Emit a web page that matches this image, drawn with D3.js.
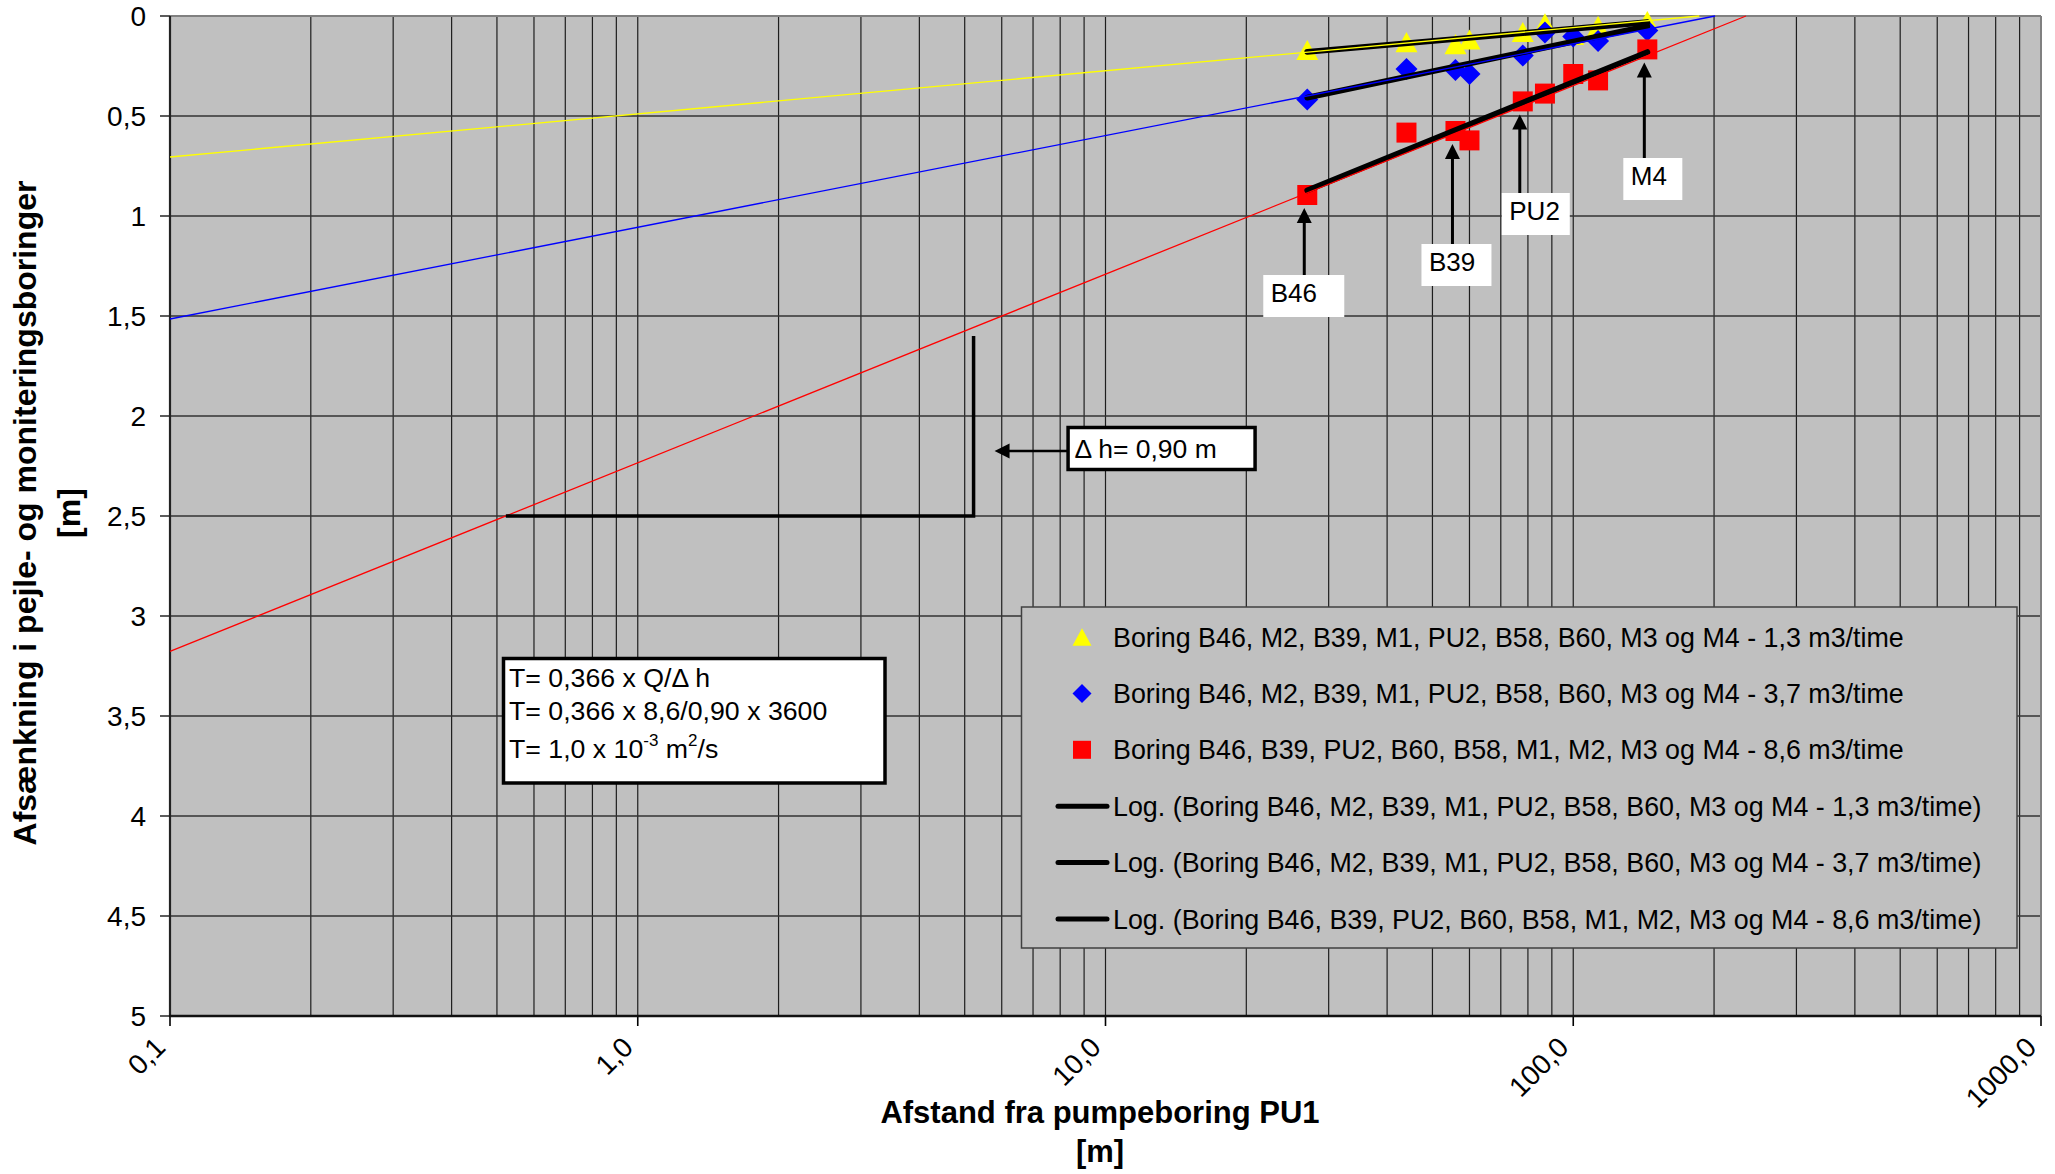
<!DOCTYPE html>
<html>
<head>
<meta charset="utf-8">
<script src="https://cdn.jsdelivr.net/npm/d3@7"></script>
<style>
  body { margin: 0; background: #fff; }
  svg { display: block; }
  text { font-family: "Liberation Sans", Arial, sans-serif; fill: #000; }
</style>
</head>
<body>
<svg id="chart" width="2055" height="1174"></svg>
<script>
// ---- data -------------------------------------------------------------
// distance from pumping well PU1 [m] for each observation bore
const distances = [27, 44, 56, 60, 78, 87, 100, 113, 144];
// drawdown [m] at the three pumping rates
const drawdown13 = [0.17, 0.131, 0.141, 0.1175, 0.08, 0.037, 0.095, 0.05, 0.025];
const drawdown37 = [0.417, 0.265, 0.27, 0.29, 0.198, 0.082, 0.103, 0.125, 0.073];
const drawdown86 = [0.895, 0.583, 0.575, 0.622, 0.427, 0.388, 0.29, 0.322, 0.167];
const seriesNames = [
  "Boring B46, M2, B39, M1, PU2, B58, B60, M3 og M4 - 1,3 m3/time",
  "Boring B46, M2, B39, M1, PU2, B58, B60, M3 og M4 - 3,7 m3/time",
  "Boring B46, B39, PU2, B60, B58, M1, M2, M3 og M4 - 8,6 m3/time"
];
// hand-drawn extrapolation lines: drawdown at 0,1 m and distance where drawdown is zero
const guideStartDepth = [0.705, 1.515, 3.177];
const guideZeroDistance = [186, 201, 234];
const xTickValues = [0.1, 1, 10, 100, 1000];
const xTickLabels = ["0,1", "1,0", "10,0", "100,0", "1000,0"];
const yTickValues = [0, 0.5, 1, 1.5, 2, 2.5, 3, 3.5, 4, 4.5, 5];
const yTickLabels = ["0", "0,5", "1", "1,5", "2", "2,5", "3", "3,5", "4", "4,5", "5"];
const calloutLabels = ["B46", "B39", "PU2", "M4"];
const calloutPointIndex = [0, 2, 4, 8];
const deltaH = 0.90;           // drawdown per log cycle [m]
const deltaHStartDepth = 2.5;  // construction starts on this drawdown

// ---- styling / layout ---------------------------------------------------
const colors = ["#ffff00", "#0000ff", "#ff0000"];
const calloutBox = [
  { top: 275, dx: -41, w: 81 },
  { top: 244, dx: -31, w: 70 },
  { top: 193, dx: -18, w: 68 },
  { top: 158, dx: -21, w: 59 }
];

const svg = d3.select("#chart");
const x = d3.scaleLog().domain([0.1, 1000]).range([170, 2041]);
const y = d3.scaleLinear().domain([0, 5]).range([16, 1016]);
const [x0, x1] = x.range();
const [y0, y1] = y.range();

// ---- marker shapes (bounding box centred) ---------------------------------
const shapeTriangle = { draw(c, s) { const r = Math.sqrt(s) / 2; c.moveTo(0, -r * 0.92); c.lineTo(r, r * 0.92); c.lineTo(-r, r * 0.92); c.closePath(); } };
const shapeDiamond = { draw(c, s) { const r = Math.sqrt(s) / 2; c.moveTo(0, -r); c.lineTo(r, 0); c.lineTo(0, r); c.lineTo(-r, 0); c.closePath(); } };
const shapeSquare = { draw(c, s) { const r = Math.sqrt(s) / 2; c.rect(-r, -r, 2 * r, 2 * r); } };
const shapes = [shapeTriangle, shapeDiamond, shapeSquare];
const markerSize = [22 * 22, 22 * 22, 20 * 20];

// ---- plot area ------------------------------------------------------------
svg.append("rect").attr("x", x0).attr("y", y0)
  .attr("width", x1 - x0).attr("height", y1 - y0).attr("fill", "#c0c0c0");

const grid = svg.append("g");
grid.selectAll("line.v").data(x.ticks().filter(v => v > 0.1 * 1.001 && v < 999))
  .join("line").attr("class", "v")
  .attr("x1", d => x(d)).attr("x2", d => x(d))
  .attr("y1", y0).attr("y2", y1)
  .attr("stroke", "#1e1e1e").attr("stroke-width", 1.2);
grid.selectAll("line.h").data(yTickValues.filter(v => v > 0 && v < 5))
  .join("line").attr("class", "h")
  .attr("x1", x0).attr("x2", x1)
  .attr("y1", d => y(d)).attr("y2", d => y(d))
  .attr("stroke", "#333").attr("stroke-width", 1.6);

// frame: grey top/right, black axes left/bottom
svg.append("line").attr("x1", x0).attr("x2", x1).attr("y1", y0).attr("y2", y0).attr("stroke", "#808080").attr("stroke-width", 2);
svg.append("line").attr("x1", x1).attr("x2", x1).attr("y1", y0).attr("y2", y1).attr("stroke", "#808080").attr("stroke-width", 2);

// ---- axes -----------------------------------------------------------------
const axisG = svg.append("g");
axisG.selectAll("line.yt").data(yTickValues).join("line").attr("class", "yt")
  .attr("x1", x0 - 10).attr("x2", x0).attr("y1", d => y(d)).attr("y2", d => y(d))
  .attr("stroke", "#333").attr("stroke-width", 1.6);
axisG.selectAll("text.yl").data(yTickValues).join("text").attr("class", "yl")
  .attr("x", x0 - 24).attr("y", d => y(d) + 10)
  .attr("text-anchor", "end").attr("font-size", 28)
  .text((d, i) => yTickLabels[i]);
axisG.selectAll("line.xt").data(xTickValues).join("line").attr("class", "xt")
  .attr("x1", d => x(d)).attr("x2", d => x(d)).attr("y1", y1).attr("y2", y1 + 10)
  .attr("stroke", "#000").attr("stroke-width", 1.6);
axisG.selectAll("text.xl").data(xTickValues).join("text").attr("class", "xl")
  .attr("transform", d => `translate(${x(d) - 3},${y1 + 33}) rotate(-45)`)
  .attr("text-anchor", "end").attr("font-size", 28)
  .text((d, i) => xTickLabels[i]);
svg.append("line").attr("x1", x0).attr("x2", x0).attr("y1", y0).attr("y2", y1 + 1).attr("stroke", "#222").attr("stroke-width", 2.2);
svg.append("line").attr("x1", x0 - 1).attr("x2", x1).attr("y1", y1).attr("y2", y1).attr("stroke", "#111").attr("stroke-width", 2.6);

// axis titles
svg.append("text").attr("x", 1100).attr("y", 1123).attr("text-anchor", "middle")
  .attr("font-size", 31).attr("font-weight", "bold").text("Afstand fra pumpeboring PU1");
svg.append("text").attr("x", 1100).attr("y", 1162).attr("text-anchor", "middle")
  .attr("font-size", 31).attr("font-weight", "bold").text("[m]");
svg.append("text").attr("transform", "translate(36,513) rotate(-90)").attr("text-anchor", "middle")
  .attr("font-size", 32).attr("font-weight", "bold").text("Afsænkning i pejle- og moniteringsboringer");
svg.append("text").attr("transform", "translate(80,513) rotate(-90)").attr("text-anchor", "middle")
  .attr("font-size", 32).attr("font-weight", "bold").text("[m]");

// ---- series ---------------------------------------------------------------
const series = [drawdown13, drawdown37, drawdown86].map((vals, i) => ({
  name: seriesNames[i], color: colors[i], shape: shapes[i], size: markerSize[i],
  points: distances.map((d, j) => ({ d, v: vals[j] }))
}));

// least squares fit of drawdown against log10(distance)
function logFit(points) {
  const lx = points.map(p => Math.log10(p.d)), ly = points.map(p => p.v);
  const mx = d3.mean(lx), my = d3.mean(ly);
  const b = d3.sum(lx, (v, k) => (v - mx) * (ly[k] - my)) / d3.sum(lx, v => (v - mx) ** 2);
  return d => my + b * (Math.log10(d) - mx);
}

const line = d3.line().x(p => x(p.d)).y(p => y(p.v));

// markers
series.forEach(s => {
  svg.append("g").selectAll("path").data(s.points).join("path")
    .attr("transform", p => `translate(${x(p.d)},${y(p.v)})`)
    .attr("d", d3.symbol().type(s.shape).size(s.size))
    .attr("fill", s.color);
});

// logarithmic trend lines across the measured range
series.forEach(s => {
  const f = logFit(s.points);
  const ext = d3.extent(distances);
  svg.append("path").datum(ext.map(d => ({ d, v: f(d) })))
    .attr("d", line).attr("fill", "none")
    .attr("stroke", "#000").attr("stroke-width", 5.8).attr("stroke-linecap", "round");
});

// thin extrapolation lines to zero drawdown
series.forEach((s, i) => {
  svg.append("path").datum([{ d: 0.1, v: guideStartDepth[i] }, { d: guideZeroDistance[i], v: 0 }])
    .attr("d", line).attr("fill", "none")
    .attr("stroke", s.color).attr("stroke-width", 1.3);
});

// ---- callouts for selected bores ---------------------------------------------
function arrowHead(g, tx, ty, dir) {
  // dir: "up" or "left"
  const L = 15, hw = 7.5;
  const pts = dir === "up"
    ? [[tx, ty], [tx + hw, ty + L], [tx - hw, ty + L]]
    : [[tx, ty], [tx + L, ty - hw], [tx + L, ty + hw]];
  g.append("path").attr("d", "M" + pts.map(p => p.join(",")).join("L") + "Z").attr("fill", "#000");
}

calloutLabels.forEach((lab, i) => {
  const k = calloutPointIndex[i];
  const ax = x(distances[k]) - 3;
  const tipY = y(drawdown86[k]) + 13;
  const box = calloutBox[i];
  const g = svg.append("g");
  g.append("line").attr("x1", ax).attr("x2", ax).attr("y1", box.top).attr("y2", tipY + 10)
    .attr("stroke", "#000").attr("stroke-width", 3);
  arrowHead(g, ax, tipY, "up");
  g.append("rect").attr("x", ax + box.dx).attr("y", box.top).attr("width", box.w).attr("height", 42).attr("fill", "#fff");
  g.append("text").attr("x", ax + box.dx + 7.5).attr("y", box.top + 26.5).attr("font-size", 26).text(lab);
});

// ---- one log-cycle construction on the 8,6 m3/time line -------------------------
const redStart = guideStartDepth[2], redZero = guideZeroDistance[2];
const redSlope = redStart / (Math.log10(redZero) - Math.log10(0.1));
const cycleStart = Math.pow(10, (redStart - deltaHStartDepth) / redSlope - 1);
const cycleEnd = cycleStart * 10;
const cons = svg.append("g");
cons.append("path").datum([{ d: cycleStart, v: deltaHStartDepth }, { d: cycleEnd, v: deltaHStartDepth }, { d: cycleEnd, v: deltaHStartDepth - deltaH }])
  .attr("d", line).attr("fill", "none").attr("stroke", "#000").attr("stroke-width", 3.5);

const vx = x(cycleEnd);
const labY = 451;
cons.append("line").attr("x1", vx + 30).attr("x2", vx + 95).attr("y1", labY).attr("y2", labY).attr("stroke", "#000").attr("stroke-width", 2.5);
arrowHead(cons, vx + 21, labY, "left");
cons.append("rect").attr("x", vx + 94.5).attr("y", 427.5).attr("width", 187).attr("height", 42)
  .attr("fill", "#fff").attr("stroke", "#000").attr("stroke-width", 3.5);
cons.append("text").attr("x", vx + 101).attr("y", 458).attr("font-size", 26.5)
  .text(`Δ h= ${d3.format(".2f")(deltaH).replace(".", ",")} m`);

// ---- transmissivity box ---------------------------------------------------
const tb = svg.append("g");
tb.append("rect").attr("x", 503.5).attr("y", 658.5).attr("width", 381.5).attr("height", 124.5)
  .attr("fill", "#fff").attr("stroke", "#000").attr("stroke-width", 3.5);
tb.append("text").attr("x", 509).attr("y", 687).attr("font-size", 26.7).text("T= 0,366 x Q/Δ h");
tb.append("text").attr("x", 509).attr("y", 720).attr("font-size", 26.7)
  .text(`T= 0,366 x 8,6/${d3.format(".2f")(deltaH).replace(".", ",")} x 3600`);
const t3 = tb.append("text").attr("x", 509).attr("y", 758).attr("font-size", 26.7);
t3.append("tspan").text("T= 1,0 x 10");
t3.append("tspan").attr("font-size", 17).attr("dy", -12).text("-3");
t3.append("tspan").attr("dy", 12).text(" m");
t3.append("tspan").attr("font-size", 17).attr("dy", -12).text("2");
t3.append("tspan").attr("dy", 12).text("/s");

// ---- legend -----------------------------------------------------------------
const lg = svg.append("g");
lg.append("rect").attr("x", 1021.5).attr("y", 607).attr("width", 995.5).attr("height", 341)
  .attr("fill", "#c0c0c0").attr("stroke", "#404040").attr("stroke-width", 1.5);
const rowY = i => 637 + i * 56.4;
series.forEach((s, i) => {
  lg.append("path").attr("transform", `translate(1082,${rowY(i)})`)
    .attr("d", d3.symbol().type(s.shape).size(i === 2 ? 18 * 18 : 19 * 19)).attr("fill", s.color);
  lg.append("text").attr("x", 1113).attr("y", rowY(i) + 9.5).attr("font-size", 26.85).text(s.name);
});
series.forEach((s, i) => {
  const r = rowY(i + 3);
  lg.append("line").attr("x1", 1058).attr("x2", 1107).attr("y1", r).attr("y2", r)
    .attr("stroke", "#000").attr("stroke-width", 5).attr("stroke-linecap", "round");
  lg.append("text").attr("x", 1113).attr("y", r + 9.5).attr("font-size", 26.85).text(`Log. (${s.name})`);
});
</script>
</body>
</html>
